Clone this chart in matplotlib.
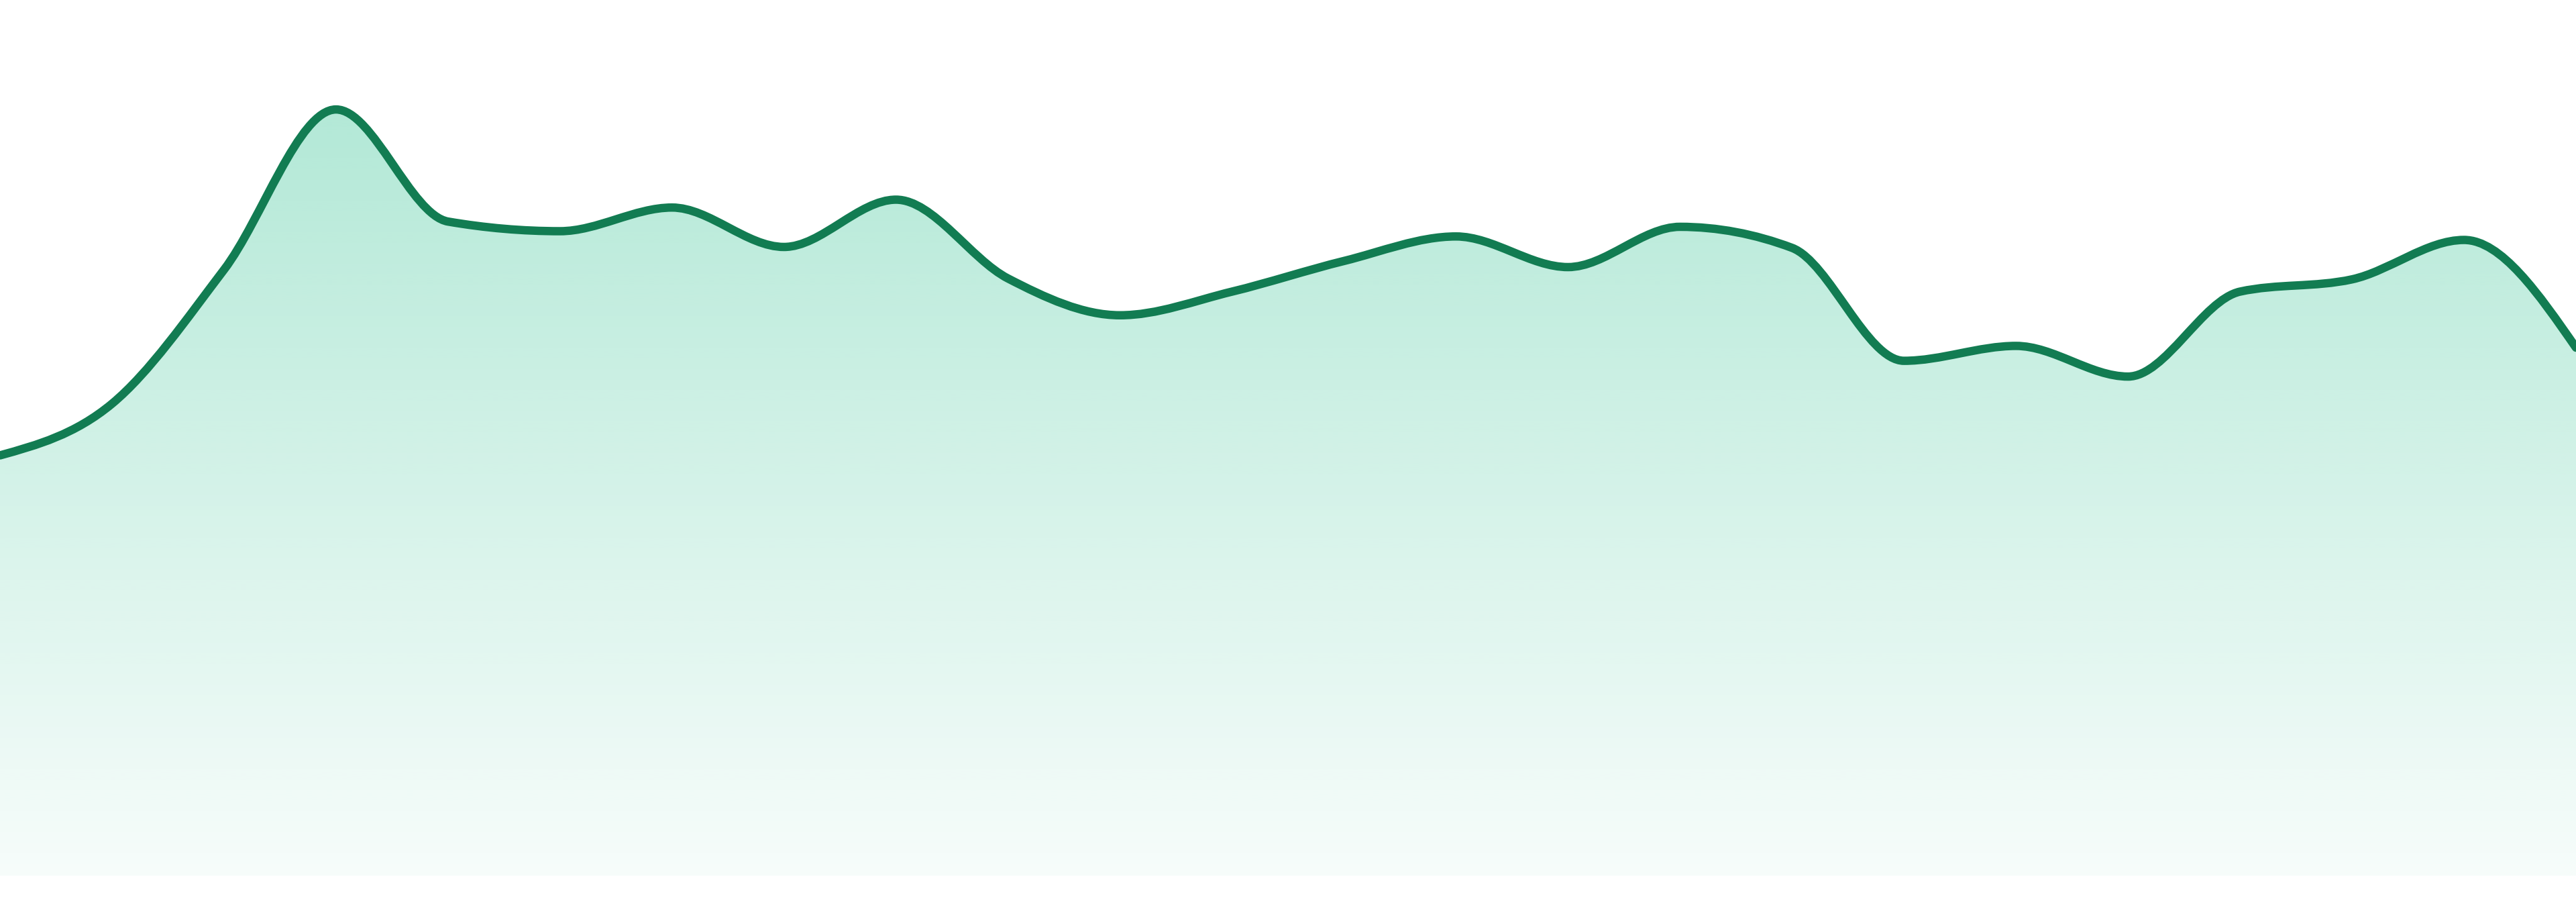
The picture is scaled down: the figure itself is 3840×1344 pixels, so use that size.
import numpy as np
import matplotlib
matplotlib.use("Agg")
import matplotlib.pyplot as plt
from matplotlib.path import Path
from matplotlib.patches import PathPatch

plt.rcParams["savefig.bbox"] = "standard"

# ---- data ----
periods = list(range(24))
values = [48.0, 53.9, 69.2, 87.5, 74.7, 73.6, 76.3, 71.8, 77.2, 68.2, 64.0, 66.7,
          70.2, 73.0, 69.5, 74.1, 71.7, 58.8, 60.5, 57.0, 66.7, 68.1, 72.6, 60.3]

Y_MIN, Y_MAX = -3.0, 100.0
LINE_COLOR = "#127c52"
FILL_RGB = (16 / 255, 185 / 255, 129 / 255)


def monotone_tangents(x, y):
    x = np.asarray(x, float)
    y = np.asarray(y, float)
    n = len(x)
    h = np.diff(x)
    s = np.diff(y) / h
    t = np.zeros(n)
    for i in range(1, n - 1):
        s0, s1 = s[i - 1], s[i]
        h0, h1 = h[i - 1], h[i]
        p = (s0 * h1 + s1 * h0) / (h0 + h1)
        t[i] = (np.sign(s0) + np.sign(s1)) * min(abs(s0), abs(s1), 0.5 * abs(p))
    t[0] = (3 * s[0] - t[1]) / 2
    t[-1] = (3 * s[-1] - t[-2]) / 2
    return t


def curve_vertices(x, y):
    t = monotone_tangents(x, y)
    verts = [(x[0], y[0])]
    codes = [Path.MOVETO]
    for i in range(len(x) - 1):
        dx = (x[i + 1] - x[i]) / 3.0
        verts += [(x[i] + dx, y[i] + dx * t[i]),
                  (x[i + 1] - dx, y[i + 1] - dx * t[i + 1]),
                  (x[i + 1], y[i + 1])]
        codes += [Path.CURVE4] * 3
    return verts, codes


fig = plt.figure(figsize=(38.4, 13.44), dpi=100)
ax = fig.add_axes([0, 0, 1, 1])
ax.axis("off")

verts, codes = curve_vertices(periods, values)

# filled area path (down to the zero baseline)
fill_verts = verts + [(periods[-1], 0), (periods[0], 0), (periods[0], values[0])]
fill_codes = codes + [Path.LINETO, Path.LINETO, Path.CLOSEPOLY]
fill_patch = PathPatch(Path(fill_verts, fill_codes), facecolor="none", edgecolor="none")
ax.add_patch(fill_patch)

top = max(values)
n = 512
alpha = np.linspace(0.32, 0.035, n)[:, None]
img = np.zeros((n, 2, 4))
img[..., 0] = FILL_RGB[0]
img[..., 1] = FILL_RGB[1]
img[..., 2] = FILL_RGB[2]
img[..., 3] = alpha
im = ax.imshow(img, extent=[periods[0], periods[-1], 0, top], origin="upper",
               aspect="auto", interpolation="bilinear", zorder=1)
im.set_clip_path(fill_patch)

line = PathPatch(Path(verts, codes), facecolor="none", edgecolor=LINE_COLOR,
                 linewidth=9.0, capstyle="round", joinstyle="round", zorder=3)
ax.add_patch(line)

ax.set_xlim(periods[0], periods[-1])
ax.set_ylim(Y_MIN, Y_MAX)

fig.savefig("out.png", dpi=100, facecolor="white")
